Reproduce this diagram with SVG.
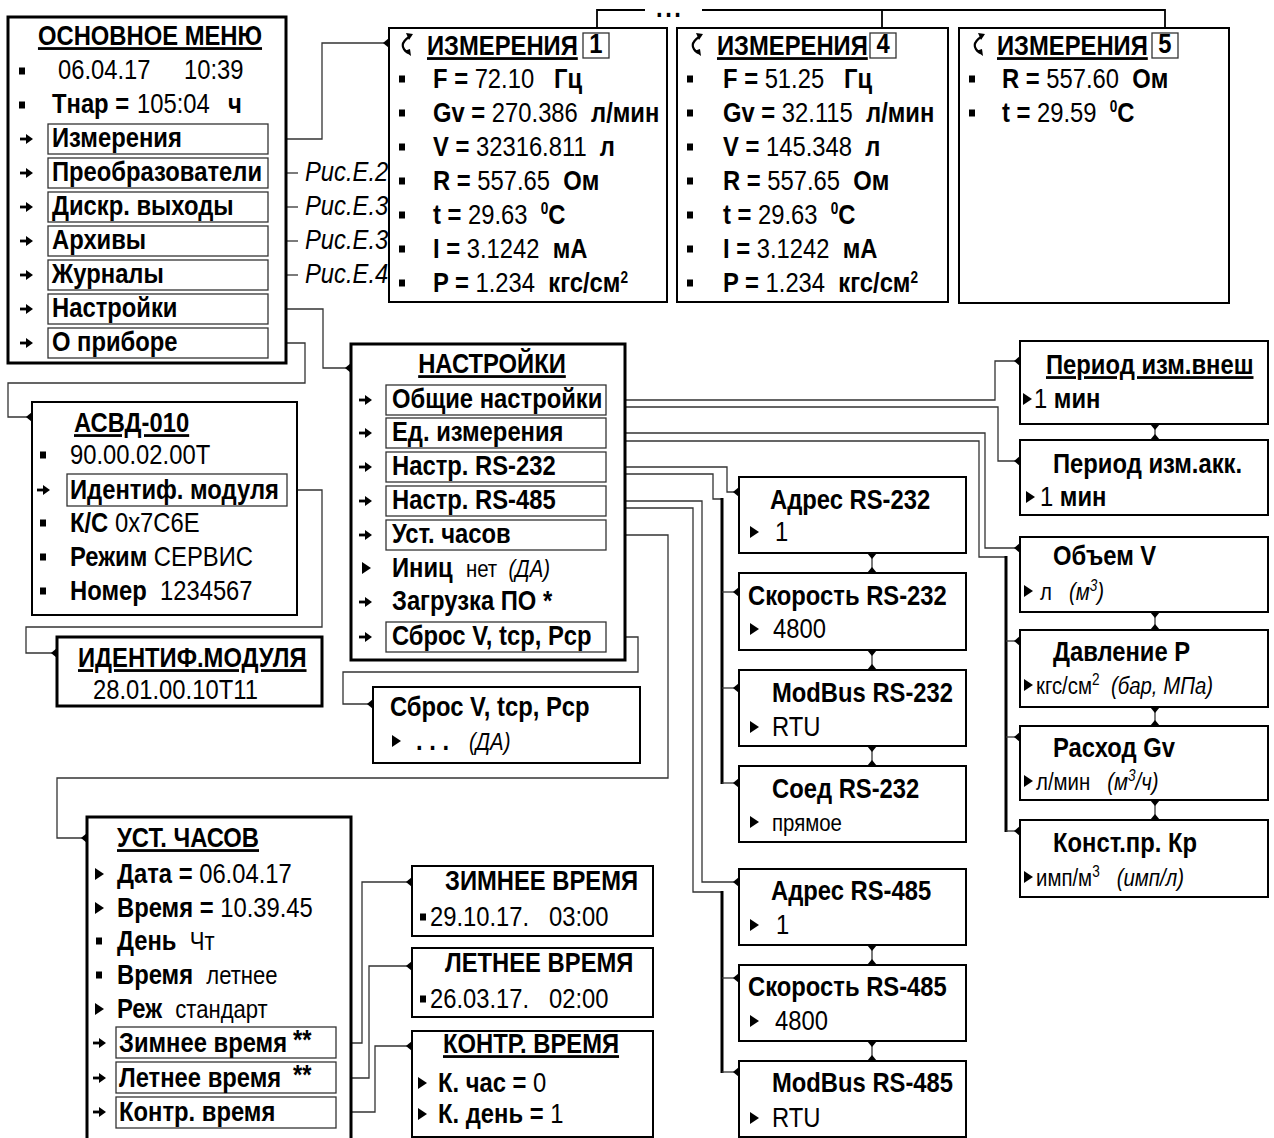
<svg xmlns="http://www.w3.org/2000/svg" width="1274" height="1138" viewBox="0 0 1274 1138">
<style>
text{font-family:"Liberation Sans",Arial,sans-serif;font-size:28px;fill:#000;white-space:pre;transform-box:fill-box;transform-origin:0 0;transform:scaleX(.85)}
.m{text-anchor:middle;transform-origin:50% 0}
.b{font-weight:bold}
.i{font-style:italic}
.u{text-decoration:underline}
.s{font-size:24px}
.sp{font-size:16px}
.box{fill:#fff;stroke:#000;stroke-width:2}
.tk{stroke-width:3}
.ib{fill:none;stroke:#333;stroke-width:1.3}
.c{fill:none;stroke:#333;stroke-width:1.3}
.bus{fill:none;stroke:#000;stroke-width:3}
.lb{fill:#fff;stroke:#333;stroke-width:1.3}
</style>
<defs>
<marker id="m" markerUnits="userSpaceOnUse" markerWidth="8" markerHeight="12" viewBox="-7 -6 8 12" refX="0" refY="0" orient="auto-start-reverse"><path d="M0,-5L0,5L-6,0Z" fill="#000"/></marker>
<g id="ar"><path d="M0,0H8" stroke="#000" stroke-width="2.8"/><path d="M6,-5L13,0L6,5Z" fill="#000"/></g>
<path id="tr" d="M0,-6L9,0L0,6Z" fill="#000"/>
<rect id="bu" x="0" y="-3.5" width="6" height="7" fill="#000"/>
<g id="wv"><path d="M5,-8Q-7,0 4,8" fill="none" stroke="#000" stroke-width="2.2"/><path d="M2,-12L9,-11L5,-5Z" fill="#000"/><path d="M0,6L7,11L6,4Z" fill="#000"/></g>
</defs>

<g id="connectors">
<path class="c" d="M268,139H322V43H389" marker-start="url(#m)" marker-end="url(#m)"/>
<path class="c" d="M268,173H298" marker-start="url(#m)"/>
<path class="c" d="M268,207H298" marker-start="url(#m)"/>
<path class="c" d="M268,241H298" marker-start="url(#m)"/>
<path class="c" d="M268,275H298" marker-start="url(#m)"/>
<path class="c" d="M268,309H323V368H351" marker-start="url(#m)" marker-end="url(#m)"/>
<path class="c" d="M268,343H305V383H8V417H32" marker-start="url(#m)" marker-end="url(#m)"/>
<path class="c" d="M287,490H322V627H26V653H57" marker-start="url(#m)" marker-end="url(#m)"/>
<path class="c" style="stroke:#000;stroke-width:1.8" d="M597,33V10H645M702,10H1165V33M882,10V33"/>
<path class="c" d="M606,400H995V361H1020" marker-start="url(#m)" marker-end="url(#m)"/>
<path class="c" d="M606,407H998V461H1020" marker-end="url(#m)"/>
<path class="c" d="M606,433H985V548H1020" marker-start="url(#m)" marker-end="url(#m)"/>
<path class="c" d="M606,441H979V557H1006"/>
<path class="bus" d="M1006,556V832"/>
<path class="c" d="M1006,641H1020" marker-end="url(#m)"/>
<path class="c" d="M1006,737H1020" marker-end="url(#m)"/>
<path class="c" d="M1006,831H1020" marker-end="url(#m)"/>
<path class="c" d="M606,467H727V492H739" marker-start="url(#m)" marker-end="url(#m)"/>
<path class="c" d="M606,474H713V499H722"/>
<path class="bus" d="M722,498V784"/>
<path class="c" d="M722,592H739" marker-end="url(#m)"/>
<path class="c" d="M722,688H739" marker-end="url(#m)"/>
<path class="c" d="M722,783H739" marker-end="url(#m)"/>
<path class="c" d="M606,501H702V882H739" marker-start="url(#m)" marker-end="url(#m)"/>
<path class="c" d="M606,508H693V892H722"/>
<path class="bus" d="M722,891V1073"/>
<path class="c" d="M722,978H739" marker-end="url(#m)"/>
<path class="c" d="M722,1072H739" marker-end="url(#m)"/>
<path class="c" d="M606,535H668V778H57V838H87" marker-start="url(#m)" marker-end="url(#m)"/>
<path class="c" d="M606,637H638V672H343V704H373" marker-start="url(#m)" marker-end="url(#m)"/>
<path class="c" d="M336,1043H362V882H412" marker-start="url(#m)" marker-end="url(#m)"/>
<path class="c" d="M336,1078H369V966H412" marker-start="url(#m)" marker-end="url(#m)"/>
<path class="c" d="M336,1112H375V1046H412" marker-start="url(#m)" marker-end="url(#m)"/>
<path class="c" d="M1155,424V440" marker-start="url(#m)" marker-end="url(#m)"/>
<path class="c" d="M1155,612V630" marker-start="url(#m)" marker-end="url(#m)"/>
<path class="c" d="M1155,707V726" marker-start="url(#m)" marker-end="url(#m)"/>
<path class="c" d="M1155,800V820" marker-start="url(#m)" marker-end="url(#m)"/>
<path class="c" d="M872,553V573" marker-start="url(#m)" marker-end="url(#m)"/>
<path class="c" d="M872,650V670" marker-start="url(#m)" marker-end="url(#m)"/>
<path class="c" d="M872,746V766" marker-start="url(#m)" marker-end="url(#m)"/>
<path class="c" d="M872,945V965" marker-start="url(#m)" marker-end="url(#m)"/>
<path class="c" d="M872,1041V1061" marker-start="url(#m)" marker-end="url(#m)"/>
<text class="b" x="656" y="17" font-size="24" letter-spacing="3">...</text>
<text class="i" x="305" y="181" font-size="26">Рис.Е.2</text>
<text class="i" x="305" y="215" font-size="26">Рис.Е.3</text>
<text class="i" x="305" y="249" font-size="26">Рис.Е.3</text>
<text class="i" x="305" y="283" font-size="26">Рис.Е.4</text>
</g>

<g id="n-main">
<rect class="box tk" x="8" y="17" width="278" height="346"/>
<text class="b u m" x="150" y="45">ОСНОВНОЕ МЕНЮ</text>
<use href="#bu" x="19" y="71"/>
<text x="58" y="79">06.04.17</text><text x="184" y="79">10:39</text>
<use href="#bu" x="19" y="105"/>
<text class="b" x="52" y="113">Тнар =</text><text x="137" y="113">105:04</text><text class="b" x="228" y="113">ч</text>
<rect class="ib" x="48" y="124" width="220" height="30"/><use href="#ar" x="20" y="139"/><text class="b" x="52" y="147">Измерения</text>
<rect class="ib" x="48" y="158" width="220" height="30"/><use href="#ar" x="20" y="173"/><text class="b" x="52" y="181">Преобразователи</text>
<rect class="ib" x="48" y="192" width="220" height="30"/><use href="#ar" x="20" y="207"/><text class="b" x="52" y="215">Дискр. выходы</text>
<rect class="ib" x="48" y="226" width="220" height="30"/><use href="#ar" x="20" y="241"/><text class="b" x="52" y="249">Архивы</text>
<rect class="ib" x="48" y="260" width="220" height="30"/><use href="#ar" x="20" y="275"/><text class="b" x="52" y="283">Журналы</text>
<rect class="ib" x="48" y="294" width="220" height="30"/><use href="#ar" x="20" y="309"/><text class="b" x="52" y="317">Настройки</text>
<rect class="ib" x="48" y="328" width="220" height="30"/><use href="#ar" x="20" y="343"/><text class="b" x="52" y="351">О приборе</text>
</g>

<g id="n-izm1">
<rect class="box" x="389" y="28" width="278" height="274"/>
<use href="#wv" x="404" y="45"/>
<text class="b u" x="427" y="55">ИЗМЕРЕНИЯ</text>
<rect class="lb" x="583" y="33" width="26" height="25"/><text class="b m" x="596" y="53" font-size="20">1</text>
<use href="#bu" x="399" y="79"/><text x="433" y="88"><tspan class="b">F = </tspan>72.10<tspan class="b">   Гц</tspan></text>
<use href="#bu" x="399" y="113"/><text x="433" y="122"><tspan class="b">Gv = </tspan>270.386<tspan class="b">  л/мин</tspan></text>
<use href="#bu" x="399" y="147"/><text x="433" y="156"><tspan class="b">V = </tspan>32316.811<tspan class="b">  л</tspan></text>
<use href="#bu" x="399" y="181"/><text x="433" y="190"><tspan class="b">R = </tspan>557.65<tspan class="b">  Ом</tspan></text>
<use href="#bu" x="399" y="215"/><text x="433" y="224"><tspan class="b">t = </tspan>29.63<tspan class="b">  </tspan><tspan class="b sp" dy="-10">0</tspan><tspan class="b" dy="10">С</tspan></text>
<use href="#bu" x="399" y="249"/><text x="433" y="258"><tspan class="b">I = </tspan>3.1242<tspan class="b">  мА</tspan></text>
<use href="#bu" x="399" y="283"/><text x="433" y="292"><tspan class="b">P = </tspan>1.234<tspan class="b">  кгс/см</tspan><tspan class="b sp" dy="-9">2</tspan></text>
</g>

<g id="n-izm4">
<rect class="box" x="677" y="28" width="271" height="274"/>
<use href="#wv" x="694" y="45"/>
<text class="b u" x="717" y="55">ИЗМЕРЕНИЯ</text>
<rect class="lb" x="870" y="33" width="26" height="25"/><text class="b m" x="883" y="53" font-size="20">4</text>
<use href="#bu" x="687" y="79"/><text x="723" y="88"><tspan class="b">F = </tspan>51.25<tspan class="b">   Гц</tspan></text>
<use href="#bu" x="687" y="113"/><text x="723" y="122"><tspan class="b">Gv = </tspan>32.115<tspan class="b">  л/мин</tspan></text>
<use href="#bu" x="687" y="147"/><text x="723" y="156"><tspan class="b">V = </tspan>145.348<tspan class="b">  л</tspan></text>
<use href="#bu" x="687" y="181"/><text x="723" y="190"><tspan class="b">R = </tspan>557.65<tspan class="b">  Ом</tspan></text>
<use href="#bu" x="687" y="215"/><text x="723" y="224"><tspan class="b">t = </tspan>29.63<tspan class="b">  </tspan><tspan class="b sp" dy="-10">0</tspan><tspan class="b" dy="10">С</tspan></text>
<use href="#bu" x="687" y="249"/><text x="723" y="258"><tspan class="b">I = </tspan>3.1242<tspan class="b">  мА</tspan></text>
<use href="#bu" x="687" y="283"/><text x="723" y="292"><tspan class="b">P = </tspan>1.234<tspan class="b">  кгс/см</tspan><tspan class="b sp" dy="-9">2</tspan></text>
</g>

<g id="n-izm5">
<rect class="box" x="959" y="28" width="270" height="275"/>
<use href="#wv" x="976" y="45"/>
<text class="b u" x="997" y="55">ИЗМЕРЕНИЯ</text>
<rect class="lb" x="1152" y="33" width="26" height="25"/><text class="b m" x="1165" y="53" font-size="20">5</text>
<use href="#bu" x="969" y="79"/><text x="1002" y="88"><tspan class="b">R = </tspan>557.60<tspan class="b">  Ом</tspan></text>
<use href="#bu" x="969" y="113"/><text x="1002" y="122"><tspan class="b">t = </tspan>29.59<tspan class="b">  </tspan><tspan class="b sp" dy="-10">0</tspan><tspan class="b" dy="10">С</tspan></text>
</g>

<g id="n-nastr">
<rect class="box tk" x="351" y="344" width="274" height="316"/>
<text class="b u m" x="492" y="373">НАСТРОЙКИ</text>
<rect class="ib" x="386" y="385" width="220" height="30"/><use href="#ar" x="359" y="400"/><text class="b" x="392" y="408">Общие настройки</text>
<rect class="ib" x="386" y="418" width="220" height="30"/><use href="#ar" x="359" y="433"/><text class="b" x="392" y="441">Ед. измерения</text>
<rect class="ib" x="386" y="452" width="220" height="30"/><use href="#ar" x="359" y="467"/><text class="b" x="392" y="475">Настр. RS-232</text>
<rect class="ib" x="386" y="486" width="220" height="30"/><use href="#ar" x="359" y="501"/><text class="b" x="392" y="509">Настр. RS-485</text>
<rect class="ib" x="386" y="520" width="220" height="30"/><use href="#ar" x="359" y="535"/><text class="b" x="392" y="543">Уст. часов</text>
<use href="#tr" x="362" y="568"/><text x="392" y="577"><tspan class="b">Иниц  </tspan><tspan class="s">нет  </tspan><tspan class="s i">(ДА)</tspan></text>
<use href="#ar" x="359" y="602"/><text class="b" x="392" y="610">Загрузка ПО *</text>
<rect class="ib" x="386" y="622" width="220" height="30"/><use href="#ar" x="359" y="637"/><text class="b" x="392" y="645">Сброс V, tср, Рср</text>
</g>

<g id="n-asvd">
<rect class="box" x="32" y="402" width="265" height="213"/>
<text class="b u" x="74" y="432">АСВД-010</text>
<use href="#bu" x="40" y="455"/><text x="70" y="464">90.00.02.00Т</text>
<rect class="ib" x="67" y="474" width="220" height="32"/><use href="#ar" x="37" y="490"/><text class="b" x="70" y="499">Идентиф. модуля</text>
<use href="#bu" x="40" y="523"/><text x="70" y="532"><tspan class="b">К/С </tspan>0x7C6E</text>
<use href="#bu" x="40" y="557"/><text x="70" y="566"><tspan class="b">Режим </tspan>СЕРВИС</text>
<use href="#bu" x="40" y="591"/><text x="70" y="600"><tspan class="b">Номер  </tspan>1234567</text>
</g>

<g id="n-ident">
<rect class="box tk" x="57" y="637" width="265" height="69"/>
<text class="b u" x="78" y="667">ИДЕНТИФ.МОДУЛЯ</text>
<text x="93" y="699">28.01.00.10Т11</text>
</g>

<g id="n-sbros">
<rect class="box" x="373" y="687" width="267" height="76"/>
<text class="b" x="390" y="716">Сброс V, tср, Рср</text>
<use href="#tr" x="392" y="741"/><text x="416" y="750"><tspan class="b">. . .   </tspan><tspan class="s i">(ДА)</tspan></text>
</g>

<g id="n-per1">
<rect class="box" x="1020" y="341" width="248" height="83"/>
<text class="b u" x="1046" y="374">Период изм.внеш</text>
<use href="#tr" x="1023" y="399"/><text x="1034" y="408">1 <tspan class="b">мин</tspan></text>
</g>
<g id="n-per2">
<rect class="box" x="1020" y="440" width="248" height="75"/>
<text class="b" x="1053" y="473">Период изм.акк.</text>
<use href="#tr" x="1026" y="497"/><text x="1040" y="506">1 <tspan class="b">мин</tspan></text>
</g>
<g id="n-vol">
<rect class="box" x="1020" y="537" width="248" height="75"/>
<text class="b" x="1053" y="565">Объем V</text>
<use href="#tr" x="1024" y="591"/><text class="s" x="1040" y="600">л   <tspan class="i">(м</tspan><tspan class="i sp" dy="-9">3</tspan><tspan class="i" dy="9">)</tspan></text>
</g>
<g id="n-press">
<rect class="box" x="1020" y="630" width="248" height="77"/>
<text class="b" x="1053" y="661">Давление Р</text>
<use href="#tr" x="1024" y="685"/><text class="s" x="1036" y="694">кгс/см<tspan class="sp" dy="-9">2</tspan><tspan class="i" dy="9">  (бар, МПа)</tspan></text>
</g>
<g id="n-flow">
<rect class="box" x="1020" y="726" width="248" height="74"/>
<text class="b" x="1053" y="757">Расход Gv</text>
<use href="#tr" x="1024" y="781"/><text class="s" x="1036" y="790">л/мин   <tspan class="i">(м</tspan><tspan class="i sp" dy="-9">3</tspan><tspan class="i" dy="9">/ч)</tspan></text>
</g>
<g id="n-kp">
<rect class="box" x="1020" y="820" width="248" height="77"/>
<text class="b" x="1053" y="852">Конст.пр. Кр</text>
<use href="#tr" x="1024" y="877"/><text class="s" x="1036" y="886">имп/м<tspan class="sp" dy="-9">3</tspan><tspan class="i" dy="9">   (имп/л)</tspan></text>
</g>

<g id="n-adr232">
<rect class="box" x="739" y="477" width="227" height="76"/>
<text class="b" x="770" y="509">Адрес RS-232</text>
<use href="#tr" x="750" y="532"/><text x="775" y="541">1</text>
</g>
<g id="n-spd232">
<rect class="box" x="739" y="573" width="227" height="77"/>
<text class="b" x="748" y="605">Скорость RS-232</text>
<use href="#tr" x="750" y="629"/><text x="773" y="638">4800</text>
</g>
<g id="n-mb232">
<rect class="box" x="739" y="670" width="227" height="76"/>
<text class="b" x="772" y="702">ModBus RS-232</text>
<use href="#tr" x="750" y="727"/><text x="772" y="736">RTU</text>
</g>
<g id="n-con232">
<rect class="box" x="739" y="766" width="227" height="76"/>
<text class="b" x="772" y="798">Соед RS-232</text>
<use href="#tr" x="750" y="822"/><text class="s" x="772" y="831">прямое</text>
</g>
<g id="n-adr485">
<rect class="box" x="739" y="869" width="227" height="76"/>
<text class="b" x="771" y="900">Адрес RS-485</text>
<use href="#tr" x="750" y="925"/><text x="776" y="934">1</text>
</g>
<g id="n-spd485">
<rect class="box" x="739" y="965" width="227" height="76"/>
<text class="b" x="748" y="996">Скорость RS-485</text>
<use href="#tr" x="750" y="1021"/><text x="775" y="1030">4800</text>
</g>
<g id="n-mb485">
<rect class="box" x="739" y="1061" width="227" height="76"/>
<text class="b" x="772" y="1092">ModBus RS-485</text>
<use href="#tr" x="750" y="1118"/><text x="772" y="1127">RTU</text>
</g>

<g id="n-clock">
<rect class="box tk" x="87" y="817" width="264" height="340"/>
<text class="b u" x="117" y="847">УСТ. ЧАСОВ</text>
<use href="#tr" x="95" y="874"/><text x="117" y="883"><tspan class="b">Дата = </tspan>06.04.17</text>
<use href="#tr" x="95" y="908"/><text x="117" y="917"><tspan class="b">Время = </tspan>10.39.45</text>
<use href="#bu" x="96" y="941"/><text x="117" y="950"><tspan class="b">День  </tspan><tspan font-size="26">Чт</tspan></text>
<use href="#bu" x="96" y="975"/><text x="117" y="984"><tspan class="b">Время  </tspan><tspan font-size="26">летнее</tspan></text>
<use href="#tr" x="95" y="1009"/><text x="117" y="1018"><tspan class="b">Реж  </tspan><tspan font-size="26">стандарт</tspan></text>
<rect class="ib" x="116" y="1027" width="220" height="31"/><use href="#ar" x="93" y="1043"/><text class="b" x="119" y="1052">Зимнее время</text><text class="b" x="293" y="1049">**</text>
<rect class="ib" x="116" y="1062" width="220" height="31"/><use href="#ar" x="93" y="1078"/><text class="b" x="119" y="1087">Летнее время</text><text class="b" x="293" y="1084">**</text>
<rect class="ib" x="116" y="1097" width="220" height="31"/><use href="#ar" x="93" y="1112"/><text class="b" x="119" y="1121">Контр. время</text>
</g>

<g id="n-winter">
<rect class="box" x="412" y="866" width="241" height="70"/>
<text class="b" x="445" y="890">ЗИМНЕЕ ВРЕМЯ</text>
<use href="#bu" x="420" y="917"/><text x="430" y="926">29.10.17.   03:00</text>
</g>
<g id="n-summer">
<rect class="box" x="412" y="948" width="241" height="69"/>
<text class="b" x="445" y="972">ЛЕТНЕЕ ВРЕМЯ</text>
<use href="#bu" x="420" y="999"/><text x="430" y="1008">26.03.17.   02:00</text>
</g>
<g id="n-ctrl">
<rect class="box" x="412" y="1031" width="241" height="106"/>
<text class="b u" x="443" y="1053">КОНТР. ВРЕМЯ</text>
<use href="#tr" x="418" y="1083"/><text x="438" y="1092"><tspan class="b">К. час = </tspan>0</text>
<use href="#tr" x="418" y="1114"/><text x="438" y="1123"><tspan class="b">К. день = </tspan>1</text>
</g>
</svg>
